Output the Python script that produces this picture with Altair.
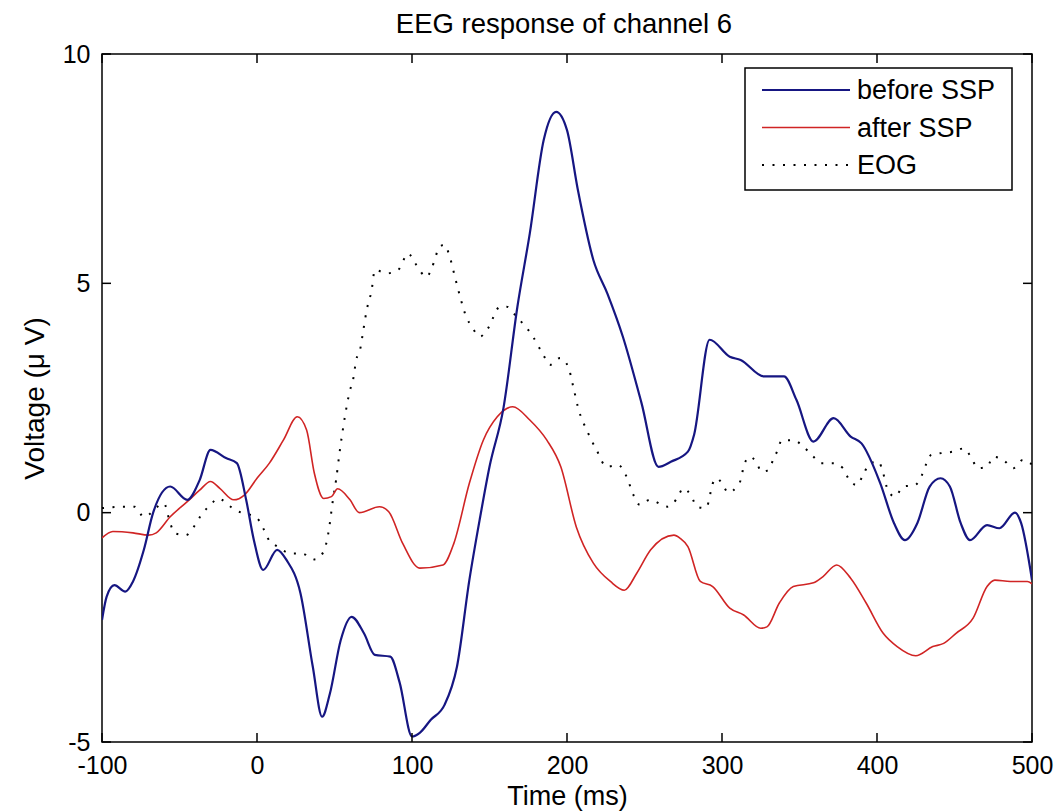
import altair as alt
import pandas as pd

# ---------------- data ----------------
time_before = [-100, -97, -92, -85, -80, -73, -67, -56, -45, -37, -30, -20, -13, -7, -2, 4, 13, 19, 28, 36,
               42, 47, 54, 61, 69, 76, 86, 92, 100, 105, 112, 121, 129, 137, 144, 150, 159, 168, 176, 185,
               193, 200, 207, 217, 226, 236, 248, 259, 267, 278, 282, 292, 305, 312, 327, 340, 348, 359, 372, 383,
               390, 402, 411, 418, 426, 434, 441, 447, 454, 460, 471, 479, 489, 493, 500]
volt_before = [-2.34, -1.83, -1.58, -1.72, -1.5, -0.81, 0.0, 0.57, 0.28, 0.71, 1.37, 1.19, 1.08, 0.28, -0.6, -1.25, -0.81, -1.03, -1.75, -3.36,
               -4.45, -3.95, -2.78, -2.27, -2.63, -3.1, -3.14, -3.7, -4.88, -4.8, -4.52, -4.19, -3.36, -1.47, -0.09, 1.0, 2.28, 4.49, 6.09, 8.13,
               8.74, 8.34, 7.04, 5.51, 4.78, 3.84, 2.4, 1.0, 1.11, 1.33, 1.7, 3.77, 3.4, 3.33, 2.97, 2.97, 2.46, 1.55, 2.06, 1.66,
               1.51, 0.65, -0.23, -0.6, -0.23, 0.57, 0.75, 0.57, -0.23, -0.6, -0.27, -0.34, 0.0, -0.23, -1.47]

time_after = [-100, -93, -80, -70, -65, -56, -45, -37, -30, -24, -15, -8, 0, 8, 17, 26, 32, 37, 43, 48,
              52, 60, 66, 79, 85, 94, 105, 120, 127, 137, 146, 155, 165, 176, 187, 196, 206, 217, 228, 237,
              245, 254, 269, 273, 278, 286, 294, 305, 314, 325, 329, 337, 346, 359, 365, 374, 383, 393, 404, 413,
              425, 436, 443, 451, 462, 471, 476, 486, 497, 500]
volt_after = [-0.55, -0.41, -0.44, -0.49, -0.44, -0.09, 0.24, 0.49, 0.68, 0.53, 0.28, 0.39, 0.75, 1.08, 1.58, 2.09, 1.8, 0.86, 0.31, 0.35,
              0.52, 0.28, 0.0, 0.13, 0.02, -0.67, -1.21, -1.14, -0.67, 0.64, 1.58, 2.09, 2.31, 2.02, 1.58, 1.0, -0.31, -1.1, -1.5, -1.69,
              -1.32, -0.81, -0.49, -0.56, -0.74, -1.5, -1.61, -2.08, -2.23, -2.52, -2.49, -1.97, -1.61, -1.53, -1.4, -1.14, -1.43, -1.97, -2.63, -2.92,
              -3.12, -2.92, -2.85, -2.63, -2.3, -1.61, -1.47, -1.5, -1.5, -1.55]

time_eog = [-100, -86, -79, -73, -60, -56, -53, -46, -40, -36, -30, -25, -17, -14, 0, 4, 7, 13, 23, 29,
            37, 43, 46, 49, 51, 53.5, 55.7, 60, 62, 64, 66.5, 68.6, 70.8, 74, 76, 84, 91, 97.6, 102, 109.5,
            112.7, 118, 121, 124, 127.7, 131, 135, 138.5, 144, 149, 156.8, 161, 167.5, 178, 184.7, 189, 195.5, 200.8, 204, 207,
            213.7, 219, 225.6, 233, 238.5, 242.8, 247, 253.5, 265, 271, 275, 280.4, 283.7, 289, 292, 293, 296.6, 300, 304, 309.5,
            312.7, 313.8, 318, 322, 325.6, 330, 333, 336, 338.5, 346, 352.5, 359, 364, 372, 378, 381.5, 387, 391, 395.5, 401,
            404, 407, 411.6, 417, 424.5, 429, 432, 435, 442, 449, 456, 461, 465, 471, 475, 481.5, 488, 494, 500]
volt_eog = [0.1, 0.13, 0.13, -0.09, 0.2, -0.23, -0.45, -0.49, -0.27, -0.05, 0.17, 0.31, 0.13, 0.06, -0.12, -0.34, -0.56, -0.74, -0.89, -0.89,
            -1.02, -0.85, -0.45, 0.28, 0.71, 1.37, 1.88, 2.67, 2.9, 3.33, 3.55, 3.98, 4.42, 4.86, 5.29, 5.22, 5.29, 5.65, 5.44, 5.14,
            5.33, 5.8, 5.84, 5.62, 5.14, 4.71, 4.27, 4.06, 3.84, 4.02, 4.49, 4.49, 4.27, 3.84, 3.44, 3.22, 3.37, 3.18, 2.75, 2.31,
            1.73, 1.37, 1.0, 1.04, 0.78, 0.39, 0.17, 0.28, 0.13, 0.31, 0.53, 0.35, 0.13, 0.1, 0.31, 0.53, 0.75, 0.64, 0.44, 0.57,
            0.78, 1.0, 1.22, 1.11, 0.89, 0.93, 1.15, 1.37, 1.58, 1.58, 1.44, 1.22, 1.08, 1.08, 0.97, 0.75, 0.6, 0.82, 1.08, 1.11,
            0.86, 0.49, 0.35, 0.57, 0.6, 0.82, 1.08, 1.26, 1.3, 1.33, 1.4, 1.19, 0.97, 1.0, 1.22, 1.15, 0.97, 1.15, 1.05]

x_ticks = [-100, 0, 100, 200, 300, 400, 500]
y_ticks = [-5, 0, 5, 10]
series_names = ["before SSP", "after SSP", "EOG"]
series_colors = ["#161682", "#d02424", "#000000"]
chart_title = "EEG response of channel 6"

# ---------------- layout ----------------
W, H = 930, 688
FONT = "Liberation Sans"
FS = 25

df = pd.concat([
    pd.DataFrame({"t": time_before, "v": volt_before, "series": series_names[0]}),
    pd.DataFrame({"t": time_after, "v": volt_after, "series": series_names[1]}),
    pd.DataFrame({"t": time_eog, "v": volt_eog, "series": series_names[2]}),
], ignore_index=True)

xs = alt.Scale(domain=[-100, 500], nice=False, zero=False)
ys = alt.Scale(domain=[-5, 10], nice=False, zero=False)

x_axis = alt.Axis(values=x_ticks, title="Time (ms)", ticks=False, domain=False,
                  grid=False, labelFlush=False, labelPadding=11, titlePadding=5, titleFontSize=27,
                  labelExpr="'' + datum.value")
y_axis = alt.Axis(values=y_ticks, title="Voltage (μ V)", ticks=False, domain=False,
                  grid=False, labelFlush=False, labelPadding=12, titlePadding=13, titleFontSize=28,
                  labelExpr="'' + datum.value")
x_enc = alt.X("t:Q", scale=xs, axis=x_axis)
y_enc = alt.Y("v:Q", scale=ys, axis=y_axis)

styles = {
    "before SSP": dict(color=series_colors[0], strokeWidth=2.2),
    "after SSP": dict(color=series_colors[1], strokeWidth=1.6),
    "EOG": dict(color=series_colors[2], strokeWidth=2, strokeDash=[2, 8.5]),
}

layers = []
for name in ["EOG", "after SSP", "before SSP"]:
    layers.append(
        alt.Chart(df).transform_filter(alt.datum.series == name)
        .mark_line(interpolate="monotone", clip=True, **styles[name])
        .encode(x=x_enc, y=y_enc, order="t:Q")
    )

# inward ticks (MATLAB style), on all four sides
xt = pd.DataFrame({"t": x_ticks})
yt = pd.DataFrame({"v": y_ticks})
TL = 9
layers += [
    alt.Chart(xt).mark_rule(color="black", strokeWidth=1.5).encode(x=x_enc, y=alt.value(H), y2=alt.value(H - TL)),
    alt.Chart(xt).mark_rule(color="black", strokeWidth=1.5).encode(x=x_enc, y=alt.value(0), y2=alt.value(TL)),
    alt.Chart(yt).mark_rule(color="black", strokeWidth=1.5).encode(y=y_enc, x=alt.value(0), x2=alt.value(TL)),
    alt.Chart(yt).mark_rule(color="black", strokeWidth=1.5).encode(y=y_enc, x=alt.value(W), x2=alt.value(W - TL)),
]

# legend box
one = pd.DataFrame({"k": [0]})
LX0, LX1, LY0, LY1 = 643, 910, 14, 136
layers.append(
    alt.Chart(one).mark_rect(fill="white", stroke="black", strokeWidth=1.5)
    .encode(x=alt.value(LX0), x2=alt.value(LX1), y=alt.value(LY0), y2=alt.value(LY1))
)
for i, name in enumerate(series_names):
    yy = 36 + 37.5 * i
    st = dict(styles[name])
    layers.append(
        alt.Chart(one).mark_rule(**st)
        .encode(x=alt.value(660), x2=alt.value(748), y=alt.value(yy))
    )
    layers.append(
        alt.Chart(pd.DataFrame({"label": [name]})).mark_text(align="left", baseline="middle", font=FONT,
                                                             fontSize=27, color="black")
        .encode(x=alt.value(755), y=alt.value(yy + 1), text="label:N")
    )

# chart title as a text mark above the frame
layers.append(
    alt.Chart(pd.DataFrame({"label": [chart_title]})).mark_text(align="center", baseline="alphabetic",
                                                                 font=FONT, fontSize=27.5, color="black")
    .encode(x=alt.value(462), y=alt.value(-21), text="label:N")
)

chart = alt.layer(*layers).properties(
    width=W, height=H,
    padding={"left": 102, "top": 54, "right": 26, "bottom": 70},
    autosize="none",
    background="white",
).configure_view(stroke="black", strokeWidth=1.5).configure_axis(
    labelFont=FONT, labelFontSize=FS, labelColor="black",
    titleFont=FONT, titleFontWeight="normal", titleColor="black",
)

chart.save("out.html", embed_options={"renderer": "svg", "actions": False})
